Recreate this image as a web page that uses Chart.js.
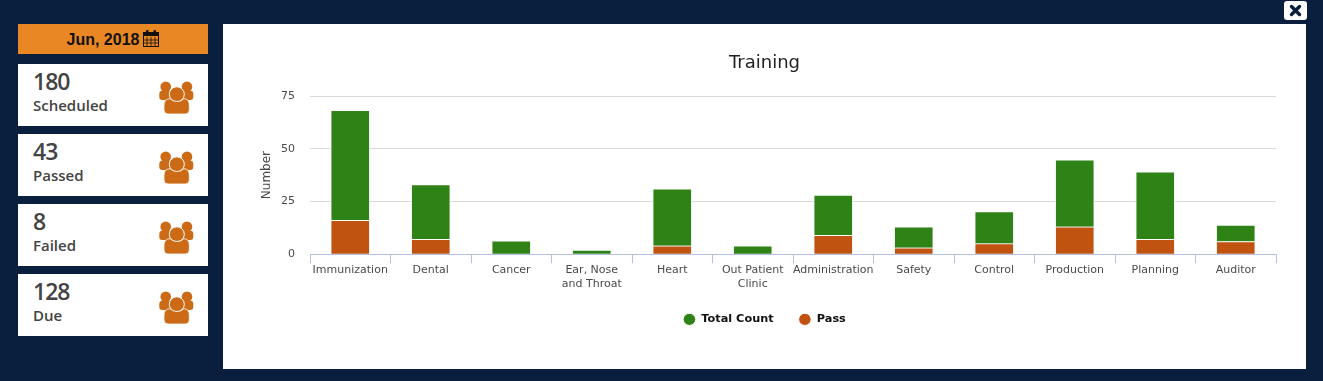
<!DOCTYPE html>
<html>
<head>
<meta charset="utf-8">
<title>Training</title>
<script src="https://cdn.jsdelivr.net/npm/chart.js@4/dist/chart.umd.min.js"></script>
<style>
    html, body { margin: 0; padding: 0; }
    body { width: 1323px; height: 381px; background: #0a1f3e; overflow: hidden; position: relative; font-family: "Open Sans", sans-serif; }
    .fecha { position: absolute; left: 18px; top: 24px; width: 190px; height: 29px; padding-top: 1px; background: #e98725; color: #111; font: bold 16px "Liberation Sans", sans-serif; display: flex; align-items: center; justify-content: center; gap: 4px; }
    .fecha svg { margin-top: -2px; }
    .tarjeta { position: absolute; left: 18px; width: 190px; height: 62px; background: #fff; color: #444; }
    .tarjeta .num { position: absolute; left: 15px; top: 1px; font-size: 23px; font-weight: 600; letter-spacing: -1px; line-height: 32px; }
    .tarjeta .txt { position: absolute; left: 15px; top: 31px; font-size: 15px; font-weight: 600; line-height: 21px; }
    .tarjeta svg { position: absolute; left: 141px; top: 17px; }
    .panel { position: absolute; left: 223px; top: 24px; width: 1083px; height: 345px; background: #fff; }
    .cerrar { position: absolute; left: 1284px; top: 1px; width: 23px; height: 19px; background: #fff; border-radius: 3px; }
</style>
</head>
<body>
<div class="fecha">Jun, 2018
    <svg width="16" height="17" viewBox="0 0 16 17"><rect x="0.5" y="2.5" width="15" height="14" fill="none" stroke="#111"/><rect x="0.5" y="2.5" width="15" height="3.500" fill="#111"/><rect x="3" y="0" width="2.500" height="5" rx="1" fill="#111"/><rect x="10.500" y="0" width="2.500" height="5" rx="1" fill="#111"/><path d="M4 7v9M8 7v9M12 7v9M1 10h14M1 13h14" stroke="#111" stroke-width="0.800"/></svg>
</div>
<div id="tarjetas"></div>
<div class="panel"><canvas id="graficoTraining" width="1083" height="345"></canvas></div>
<div class="cerrar"><svg width="23" height="19" viewBox="0 0 23 19"><path d="M7.500 5.500l8 8M15.500 5.500l-8 8" stroke="#0a1f3e" stroke-width="3.400" stroke-linecap="round"/></svg></div>

<script>
const categorias = ["Immunization", "Dental", "Cancer", ["Ear, Nose", "and Throat"], "Heart", ["Out Patient", "Clinic"], "Administration", "Safety", "Control", "Production", "Planning", "Auditor"];
const totalCount = [52.2, 26, 6.3, 2, 27, 4, 19, 10, 15.2, 31.7, 32, 7.8];
const pass = [16, 7, 0, 0, 4, 0, 9, 3, 5, 13, 7, 6];
const ticksY = [0, 25, 50, 75];

const resumenValores = [180, 43, 8, 128];
const resumenNombres = ["Scheduled", "Passed", "Failed", "Due"];
const resumenTop = [64, 134, 204, 274];

const iconoUsuarios = '<svg width="36" height="34" viewBox="0 0 36 34" fill="#cc6a16">' +
    '<circle cx="6.700" cy="5.700" r="5.300"/><circle cx="28" cy="5.700" r="5.300"/>' +
    '<path d="M0.300 13q0-3.300 3-3.300h28q3 0 3 3.300v3q0 3-3 3h-28q-3 0-3-3z"/>' +
    '<circle cx="17.800" cy="13.300" r="7.500" stroke="#fff" stroke-width="1"/>' +
    '<path d="M5 24q0-6 6-6.300 3 2.800 7 2.800t7-2.800q5.300 0.300 5.300 6.300v5q0 4-4 4h-17.300q-4 0-4-4z" stroke="#fff" stroke-width="0.800"/></svg>';

document.getElementById("tarjetas").innerHTML = resumenValores.map((valor, i) => {
    return '<div class="tarjeta" style="top:' + resumenTop[i] + 'px"><div class="num">' + valor + '</div><div class="txt">' + resumenNombres[i] + '</div>' + iconoUsuarios + '</div>';
}).join("");

const fuente = '"DejaVu Sans", sans-serif';

const dataGrafico = {
    labels: categorias,
    datasets: [
        { label: "Pass", data: pass, backgroundColor: "#bf530f", borderColor: "#ffffff", borderWidth: 1, barThickness: 39 },
        { label: "Total Count", data: totalCount, backgroundColor: "#2f8216", borderColor: "#ffffff", borderWidth: 1, barThickness: 39 },
    ],
};

const configGrafico = {
    type: "bar",
    data: dataGrafico,
    options: {
        responsive: false,
        animation: false,
        layout: { padding: { left: 30, right: 30, top: 0, bottom: 34 } },
        plugins: {
            tooltip: { enabled: false },
            title: {
                display: true,
                text: "Training",
                color: "#222222",
                font: { family: fuente, size: 18, weight: "normal" },
                padding: { top: 28.5, bottom: 21.9 },
            },
            legend: {
                position: "bottom",
                labels: {
                    usePointStyle: true,
                    pointStyle: "circle",
                    pointStyleWidth: 12.5,
                    boxHeight: 8.6,
                    padding: 25,
                    color: "#111111",
                    font: { family: fuente, size: 11.3, weight: "bold" },
                    sort: (a, b) => b.datasetIndex - a.datasetIndex,
                },
            },
        },
        scales: {
            x: {
                stacked: true,
                afterFit: (scale) => { scale.height = 34.5; },
                border: { color: "#b5bfe0" },
                grid: { drawOnChartArea: false, color: "#b5bfe0", tickLength: 9 },
                ticks: { color: "#4a4a4a", font: { family: fuente, size: 11, lineHeight: 1.27 }, padding: 0, maxRotation: 0, autoSkip: false },
            },
            y: {
                stacked: true,
                min: 0,
                max: 75,
                afterFit: (scale) => { scale.width = 57; },
                afterBuildTicks: (scale) => { scale.ticks = ticksY.map((v) => ({ value: v })); },
                border: { display: false },
                grid: { color: "#d8d8d8", tickLength: 0 },
                ticks: { color: "#4a4a4a", font: { family: fuente, size: 11 }, padding: 15 },
                title: { display: true, text: "Number", color: "#4a4a4a", font: { family: fuente, size: 12 }, padding: { top: 7, bottom: 0 } },
            },
        },
    },
};

const chartTraining = new Chart(document.getElementById("graficoTraining"), configGrafico);
</script>
</body>
</html>
